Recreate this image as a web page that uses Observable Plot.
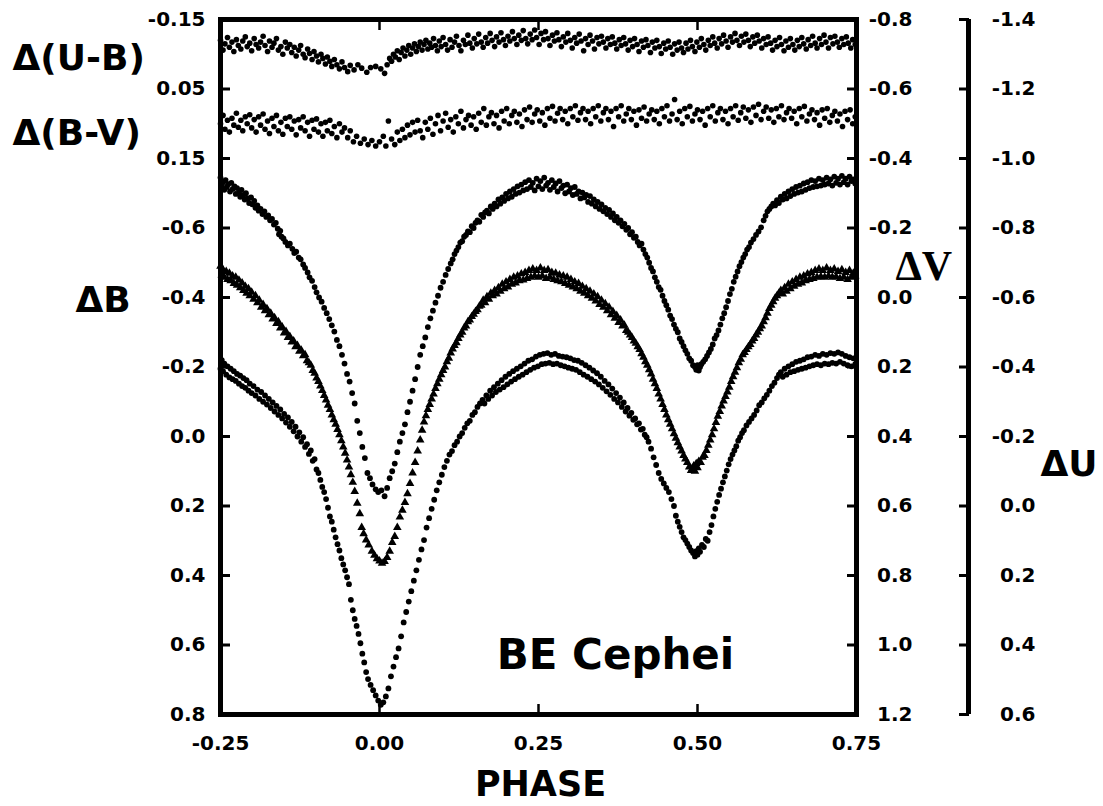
<!DOCTYPE html>
<html>
<head>
<meta charset="utf-8">
<script src="https://cdn.jsdelivr.net/npm/d3@7"></script>
<script src="https://cdn.jsdelivr.net/npm/@observablehq/plot@0.6"></script>
<style>
  body { margin: 0; background: #fff; }
  svg { display: block; }
</style>
</head>
<body>
<div id="chart"></div>
<script>
// ---------- tick labels ----------
const phaseTicks = [-0.25, 0.00, 0.25, 0.50, 0.75];
const innerPhaseTicks = [0.00, 0.25, 0.50];
const colorTicks = [-0.15, 0.05, 0.15];          // Δ(U-B), Δ(B-V) labels
const colorTickPos = [-1.2, -1.0, -0.8];         // where those labels sit on the ΔB axis
const bTicks = [-0.6, -0.4, -0.2, 0.0, 0.2, 0.4, 0.6, 0.8];
const vTicks = [-0.8, -0.6, -0.4, -0.2, 0.0, 0.2, 0.4, 0.6, 0.8, 1.0, 1.2];
const uTicks = [-1.4, -1.2, -1.0, -0.8, -0.6, -0.4, -0.2, 0.0, 0.2, 0.4, 0.6];
const vOffset = 0.4;   // ΔV = ΔB-axis value + 0.4
const uOffset = -0.2;  // ΔU = ΔB-axis value - 0.2

// ---------- series: [phase, value] ----------
const dV = [[-0.250,-0.345],[-0.248,-0.320],[-0.246,-0.332],[-0.244,-0.310],[-0.242,-0.338],[-0.240,-0.318],[-0.238,-0.326],[-0.235,-0.305],[-0.233,-0.330],[-0.231,-0.312],[-0.228,-0.320],[-0.226,-0.298],[-0.224,-0.315],[-0.221,-0.302],[-0.219,-0.290],[-0.217,-0.310],[-0.214,-0.295],[-0.212,-0.282],[-0.210,-0.300],[-0.207,-0.285],[-0.205,-0.272],[-0.202,-0.288],[-0.200,-0.268],[-0.197,-0.278],[-0.195,-0.258],[-0.192,-0.265],[-0.190,-0.250],[-0.187,-0.255],[-0.184,-0.240],[-0.181,-0.248],[-0.178,-0.232],[-0.175,-0.236],[-0.172,-0.222],[-0.169,-0.226],[-0.166,-0.210],[-0.163,-0.215],[-0.160,-0.198],[-0.158,-0.182],[-0.156,-0.192],[-0.154,-0.175],[-0.151,-0.170],[-0.148,-0.160],[-0.144,-0.150],[-0.141,-0.155],[-0.137,-0.140],[-0.134,-0.128],[-0.131,-0.132],[-0.127,-0.115],[-0.124,-0.110],[-0.120,-0.095],[-0.117,-0.085],[-0.113,-0.072],[-0.110,-0.058],[-0.106,-0.048],[-0.102,-0.030],[-0.099,-0.015],[-0.095,0.000],[-0.091,0.012],[-0.087,0.030],[-0.083,0.045],[-0.079,0.062],[-0.075,0.080],[-0.071,0.098],[-0.067,0.122],[-0.063,0.140],[-0.059,0.165],[-0.055,0.190],[-0.051,0.220],[-0.047,0.242],[-0.043,0.275],[-0.039,0.305],[-0.035,0.355],[-0.031,0.390],[-0.027,0.430],[-0.023,0.462],[-0.019,0.505],[-0.015,0.520],[-0.011,0.538],[-0.006,0.552],[-0.002,0.560],[0.003,0.555],[0.008,0.572],[0.012,0.548],[0.016,0.520],[0.020,0.500],[0.024,0.478],[0.028,0.445],[0.032,0.415],[0.036,0.390],[0.040,0.365],[0.044,0.330],[0.048,0.300],[0.052,0.268],[0.056,0.235],[0.060,0.200],[0.064,0.165],[0.068,0.140],[0.072,0.115],[0.076,0.085],[0.080,0.060],[0.084,0.038],[0.088,0.015],[0.092,-0.005],[0.096,-0.028],[0.100,-0.045],[0.104,-0.065],[0.108,-0.082],[0.112,-0.098],[0.115,-0.110],[0.118,-0.125],[0.121,-0.135],[0.124,-0.145],[0.127,-0.158],[0.130,-0.162],[0.133,-0.175],[0.136,-0.180],[0.139,-0.190],[0.142,-0.188],[0.145,-0.205],[0.148,-0.200],[0.151,-0.215],[0.154,-0.222],[0.157,-0.218],[0.160,-0.238],[0.163,-0.232],[0.166,-0.245],[0.169,-0.250],[0.172,-0.242],[0.175,-0.262],[0.178,-0.255],[0.181,-0.270],[0.184,-0.262],[0.187,-0.282],[0.190,-0.270],[0.193,-0.288],[0.196,-0.278],[0.199,-0.298],[0.202,-0.285],[0.205,-0.305],[0.208,-0.290],[0.211,-0.312],[0.214,-0.298],[0.217,-0.320],[0.220,-0.302],[0.223,-0.325],[0.226,-0.308],[0.229,-0.332],[0.232,-0.312],[0.235,-0.338],[0.238,-0.318],[0.241,-0.330],[0.244,-0.308],[0.247,-0.342],[0.250,-0.320],[0.253,-0.335],[0.256,-0.312],[0.259,-0.345],[0.262,-0.322],[0.265,-0.330],[0.268,-0.310],[0.271,-0.338],[0.274,-0.318],[0.277,-0.328],[0.280,-0.305],[0.283,-0.335],[0.286,-0.315],[0.289,-0.322],[0.292,-0.300],[0.295,-0.325],[0.298,-0.305],[0.301,-0.315],[0.304,-0.295],[0.307,-0.318],[0.310,-0.298],[0.313,-0.305],[0.316,-0.285],[0.319,-0.302],[0.322,-0.288],[0.325,-0.295],[0.328,-0.275],[0.331,-0.292],[0.334,-0.270],[0.337,-0.282],[0.340,-0.262],[0.343,-0.275],[0.346,-0.255],[0.349,-0.268],[0.352,-0.248],[0.355,-0.258],[0.358,-0.240],[0.361,-0.252],[0.364,-0.232],[0.367,-0.242],[0.370,-0.222],[0.373,-0.232],[0.376,-0.215],[0.379,-0.222],[0.382,-0.205],[0.385,-0.212],[0.388,-0.195],[0.391,-0.200],[0.394,-0.182],[0.397,-0.188],[0.400,-0.172],[0.403,-0.175],[0.406,-0.160],[0.409,-0.150],[0.412,-0.155],[0.415,-0.138],[0.418,-0.125],[0.421,-0.115],[0.424,-0.100],[0.427,-0.085],[0.430,-0.075],[0.433,-0.058],[0.436,-0.045],[0.439,-0.030],[0.442,-0.022],[0.445,-0.005],[0.448,0.010],[0.451,0.022],[0.454,0.035],[0.457,0.052],[0.460,0.062],[0.463,0.078],[0.466,0.090],[0.469,0.100],[0.472,0.118],[0.475,0.128],[0.478,0.140],[0.481,0.152],[0.484,0.162],[0.487,0.175],[0.490,0.182],[0.493,0.195],[0.496,0.200],[0.498,0.208],[0.500,0.195],[0.502,0.210],[0.504,0.200],[0.506,0.192],[0.509,0.185],[0.512,0.178],[0.515,0.168],[0.518,0.158],[0.521,0.148],[0.524,0.135],[0.527,0.118],[0.530,0.108],[0.533,0.095],[0.536,0.078],[0.539,0.060],[0.542,0.045],[0.545,0.028],[0.548,0.010],[0.551,-0.010],[0.554,-0.025],[0.557,-0.045],[0.560,-0.060],[0.563,-0.075],[0.566,-0.090],[0.569,-0.102],[0.572,-0.115],[0.575,-0.125],[0.578,-0.138],[0.581,-0.145],[0.584,-0.158],[0.588,-0.168],[0.592,-0.180],[0.596,-0.190],[0.600,-0.202],[0.604,-0.222],[0.607,-0.235],[0.610,-0.248],[0.613,-0.255],[0.616,-0.262],[0.619,-0.270],[0.622,-0.265],[0.625,-0.280],[0.628,-0.272],[0.631,-0.290],[0.634,-0.282],[0.637,-0.298],[0.640,-0.285],[0.643,-0.305],[0.646,-0.292],[0.649,-0.312],[0.652,-0.298],[0.655,-0.318],[0.658,-0.302],[0.661,-0.322],[0.664,-0.305],[0.667,-0.328],[0.670,-0.310],[0.673,-0.332],[0.676,-0.315],[0.679,-0.338],[0.682,-0.318],[0.685,-0.335],[0.688,-0.320],[0.691,-0.342],[0.694,-0.322],[0.697,-0.338],[0.700,-0.325],[0.703,-0.345],[0.706,-0.328],[0.709,-0.340],[0.712,-0.322],[0.715,-0.348],[0.718,-0.330],[0.721,-0.342],[0.724,-0.325],[0.727,-0.350],[0.730,-0.332],[0.733,-0.342],[0.736,-0.325],[0.739,-0.348],[0.742,-0.335],[0.745,-0.340],[0.748,-0.328]];

const dB = [[-0.250,-0.490],[-0.248,-0.465],[-0.246,-0.480],[-0.244,-0.458],[-0.241,-0.475],[-0.239,-0.452],[-0.236,-0.470],[-0.234,-0.448],[-0.231,-0.462],[-0.229,-0.440],[-0.226,-0.458],[-0.224,-0.435],[-0.221,-0.450],[-0.219,-0.428],[-0.216,-0.442],[-0.214,-0.420],[-0.211,-0.432],[-0.209,-0.412],[-0.206,-0.425],[-0.204,-0.405],[-0.201,-0.415],[-0.198,-0.395],[-0.195,-0.405],[-0.192,-0.385],[-0.189,-0.392],[-0.186,-0.372],[-0.183,-0.380],[-0.180,-0.362],[-0.177,-0.368],[-0.174,-0.350],[-0.171,-0.355],[-0.168,-0.338],[-0.165,-0.342],[-0.162,-0.325],[-0.159,-0.330],[-0.156,-0.312],[-0.153,-0.315],[-0.150,-0.298],[-0.147,-0.302],[-0.144,-0.285],[-0.141,-0.288],[-0.138,-0.272],[-0.135,-0.275],[-0.132,-0.258],[-0.129,-0.262],[-0.126,-0.245],[-0.123,-0.248],[-0.120,-0.232],[-0.117,-0.235],[-0.114,-0.218],[-0.111,-0.212],[-0.108,-0.205],[-0.105,-0.190],[-0.102,-0.182],[-0.099,-0.168],[-0.096,-0.158],[-0.093,-0.145],[-0.090,-0.132],[-0.087,-0.118],[-0.084,-0.105],[-0.081,-0.090],[-0.078,-0.078],[-0.075,-0.062],[-0.072,-0.048],[-0.069,-0.035],[-0.066,-0.020],[-0.063,-0.005],[-0.060,0.012],[-0.057,0.030],[-0.054,0.048],[-0.051,0.068],[-0.048,0.088],[-0.045,0.110],[-0.042,0.132],[-0.039,0.158],[-0.035,0.192],[-0.031,0.222],[-0.028,0.262],[-0.025,0.280],[-0.021,0.298],[-0.017,0.312],[-0.012,0.330],[-0.008,0.342],[-0.004,0.352],[0.000,0.358],[0.004,0.365],[0.008,0.360],[0.012,0.348],[0.016,0.330],[0.020,0.305],[0.024,0.288],[0.028,0.262],[0.032,0.232],[0.036,0.212],[0.040,0.190],[0.044,0.165],[0.048,0.135],[0.052,0.105],[0.056,0.075],[0.060,0.042],[0.064,0.010],[0.067,-0.018],[0.070,-0.042],[0.073,-0.060],[0.076,-0.078],[0.079,-0.092],[0.082,-0.108],[0.085,-0.122],[0.088,-0.138],[0.091,-0.152],[0.094,-0.165],[0.097,-0.178],[0.100,-0.190],[0.103,-0.200],[0.106,-0.215],[0.109,-0.225],[0.112,-0.240],[0.115,-0.252],[0.118,-0.262],[0.121,-0.270],[0.124,-0.282],[0.127,-0.292],[0.130,-0.300],[0.133,-0.312],[0.136,-0.318],[0.139,-0.330],[0.142,-0.335],[0.145,-0.345],[0.148,-0.352],[0.151,-0.360],[0.154,-0.365],[0.157,-0.375],[0.160,-0.378],[0.163,-0.392],[0.166,-0.385],[0.169,-0.402],[0.172,-0.395],[0.175,-0.412],[0.178,-0.405],[0.181,-0.420],[0.184,-0.410],[0.187,-0.428],[0.190,-0.418],[0.193,-0.438],[0.196,-0.425],[0.199,-0.445],[0.202,-0.430],[0.205,-0.452],[0.208,-0.438],[0.211,-0.458],[0.214,-0.442],[0.217,-0.462],[0.220,-0.448],[0.223,-0.468],[0.226,-0.450],[0.229,-0.472],[0.232,-0.455],[0.235,-0.478],[0.238,-0.458],[0.241,-0.482],[0.244,-0.462],[0.247,-0.478],[0.250,-0.458],[0.253,-0.485],[0.256,-0.462],[0.259,-0.478],[0.262,-0.455],[0.265,-0.480],[0.268,-0.458],[0.271,-0.472],[0.274,-0.452],[0.277,-0.470],[0.280,-0.448],[0.283,-0.465],[0.286,-0.445],[0.289,-0.462],[0.292,-0.440],[0.295,-0.458],[0.298,-0.435],[0.301,-0.452],[0.304,-0.430],[0.307,-0.445],[0.310,-0.425],[0.313,-0.440],[0.316,-0.418],[0.319,-0.432],[0.322,-0.412],[0.325,-0.425],[0.328,-0.405],[0.331,-0.418],[0.334,-0.398],[0.337,-0.410],[0.340,-0.390],[0.343,-0.402],[0.346,-0.380],[0.349,-0.392],[0.352,-0.372],[0.355,-0.382],[0.358,-0.362],[0.361,-0.372],[0.364,-0.350],[0.367,-0.360],[0.370,-0.340],[0.373,-0.348],[0.376,-0.328],[0.379,-0.335],[0.382,-0.318],[0.385,-0.320],[0.388,-0.305],[0.391,-0.300],[0.394,-0.292],[0.397,-0.285],[0.400,-0.275],[0.403,-0.268],[0.406,-0.258],[0.409,-0.250],[0.412,-0.238],[0.415,-0.228],[0.418,-0.215],[0.421,-0.205],[0.424,-0.192],[0.427,-0.180],[0.430,-0.165],[0.433,-0.152],[0.436,-0.138],[0.439,-0.122],[0.442,-0.108],[0.445,-0.092],[0.448,-0.078],[0.451,-0.062],[0.454,-0.048],[0.457,-0.035],[0.460,-0.022],[0.463,-0.008],[0.466,0.005],[0.469,0.018],[0.472,0.030],[0.475,0.042],[0.478,0.055],[0.481,0.065],[0.484,0.075],[0.487,0.088],[0.490,0.098],[0.492,0.092],[0.494,0.085],[0.496,0.100],[0.498,0.078],[0.500,0.090],[0.502,0.072],[0.505,0.075],[0.508,0.060],[0.511,0.055],[0.514,0.040],[0.517,0.025],[0.520,0.010],[0.523,-0.005],[0.526,-0.022],[0.529,-0.040],[0.532,-0.058],[0.535,-0.072],[0.538,-0.088],[0.541,-0.102],[0.544,-0.115],[0.547,-0.128],[0.550,-0.142],[0.553,-0.158],[0.556,-0.172],[0.559,-0.185],[0.562,-0.198],[0.565,-0.212],[0.568,-0.222],[0.571,-0.235],[0.574,-0.242],[0.577,-0.250],[0.580,-0.258],[0.583,-0.265],[0.586,-0.275],[0.589,-0.282],[0.592,-0.292],[0.595,-0.300],[0.598,-0.310],[0.601,-0.318],[0.604,-0.330],[0.607,-0.342],[0.610,-0.355],[0.613,-0.368],[0.616,-0.378],[0.619,-0.388],[0.622,-0.398],[0.625,-0.405],[0.628,-0.412],[0.631,-0.420],[0.634,-0.410],[0.637,-0.428],[0.640,-0.418],[0.643,-0.438],[0.646,-0.425],[0.649,-0.445],[0.652,-0.432],[0.655,-0.452],[0.658,-0.438],[0.661,-0.458],[0.664,-0.442],[0.667,-0.462],[0.670,-0.448],[0.673,-0.468],[0.676,-0.452],[0.679,-0.472],[0.682,-0.455],[0.685,-0.478],[0.688,-0.458],[0.691,-0.482],[0.694,-0.460],[0.697,-0.478],[0.700,-0.458],[0.703,-0.485],[0.706,-0.462],[0.709,-0.478],[0.712,-0.458],[0.715,-0.482],[0.718,-0.460],[0.721,-0.475],[0.724,-0.455],[0.727,-0.480],[0.730,-0.458],[0.733,-0.472],[0.736,-0.452],[0.739,-0.478],[0.742,-0.458],[0.745,-0.470],[0.748,-0.462]];

const dU = [[-0.250,-0.395],[-0.248,-0.420],[-0.246,-0.388],[-0.244,-0.410],[-0.241,-0.378],[-0.239,-0.402],[-0.236,-0.370],[-0.234,-0.395],[-0.231,-0.365],[-0.229,-0.388],[-0.226,-0.360],[-0.224,-0.380],[-0.221,-0.352],[-0.219,-0.375],[-0.216,-0.345],[-0.214,-0.368],[-0.211,-0.340],[-0.209,-0.362],[-0.206,-0.332],[-0.204,-0.352],[-0.201,-0.325],[-0.198,-0.345],[-0.195,-0.318],[-0.192,-0.335],[-0.189,-0.308],[-0.186,-0.328],[-0.183,-0.300],[-0.180,-0.318],[-0.177,-0.292],[-0.174,-0.308],[-0.171,-0.282],[-0.168,-0.298],[-0.165,-0.272],[-0.162,-0.288],[-0.159,-0.262],[-0.156,-0.278],[-0.153,-0.252],[-0.150,-0.265],[-0.147,-0.240],[-0.144,-0.255],[-0.141,-0.228],[-0.138,-0.242],[-0.135,-0.215],[-0.132,-0.228],[-0.129,-0.200],[-0.126,-0.212],[-0.123,-0.185],[-0.120,-0.198],[-0.117,-0.170],[-0.114,-0.178],[-0.111,-0.150],[-0.108,-0.160],[-0.105,-0.130],[-0.102,-0.135],[-0.099,-0.105],[-0.096,-0.095],[-0.093,-0.075],[-0.090,-0.055],[-0.087,-0.040],[-0.084,-0.020],[-0.081,0.005],[-0.078,0.030],[-0.075,0.045],[-0.072,0.068],[-0.069,0.090],[-0.066,0.110],[-0.063,0.128],[-0.060,0.150],[-0.057,0.168],[-0.054,0.185],[-0.051,0.205],[-0.048,0.225],[-0.045,0.270],[-0.042,0.300],[-0.039,0.325],[-0.036,0.345],[-0.033,0.368],[-0.030,0.395],[-0.027,0.425],[-0.024,0.450],[-0.021,0.478],[-0.018,0.498],[-0.014,0.515],[-0.010,0.530],[-0.006,0.545],[-0.002,0.560],[0.002,0.572],[0.006,0.565],[0.010,0.548],[0.014,0.525],[0.018,0.490],[0.022,0.462],[0.026,0.435],[0.030,0.410],[0.034,0.375],[0.038,0.335],[0.042,0.305],[0.046,0.275],[0.050,0.245],[0.054,0.215],[0.058,0.185],[0.062,0.155],[0.066,0.125],[0.070,0.098],[0.074,0.062],[0.078,0.035],[0.082,0.008],[0.086,-0.018],[0.090,-0.045],[0.094,-0.068],[0.098,-0.090],[0.102,-0.112],[0.106,-0.130],[0.110,-0.148],[0.114,-0.158],[0.118,-0.175],[0.122,-0.185],[0.126,-0.200],[0.130,-0.210],[0.134,-0.225],[0.138,-0.238],[0.142,-0.245],[0.146,-0.262],[0.150,-0.270],[0.154,-0.285],[0.158,-0.295],[0.162,-0.305],[0.165,-0.295],[0.168,-0.318],[0.171,-0.308],[0.174,-0.332],[0.177,-0.318],[0.180,-0.342],[0.183,-0.328],[0.186,-0.352],[0.189,-0.335],[0.192,-0.362],[0.195,-0.342],[0.198,-0.372],[0.201,-0.350],[0.204,-0.380],[0.207,-0.358],[0.210,-0.388],[0.213,-0.365],[0.216,-0.395],[0.219,-0.372],[0.222,-0.402],[0.225,-0.378],[0.228,-0.410],[0.231,-0.385],[0.234,-0.418],[0.237,-0.392],[0.240,-0.422],[0.243,-0.398],[0.246,-0.430],[0.249,-0.402],[0.252,-0.435],[0.255,-0.408],[0.258,-0.438],[0.261,-0.410],[0.264,-0.440],[0.267,-0.412],[0.270,-0.435],[0.273,-0.408],[0.276,-0.438],[0.279,-0.410],[0.282,-0.432],[0.285,-0.405],[0.288,-0.430],[0.291,-0.402],[0.294,-0.428],[0.297,-0.398],[0.300,-0.425],[0.303,-0.395],[0.306,-0.420],[0.309,-0.392],[0.312,-0.418],[0.315,-0.385],[0.318,-0.412],[0.321,-0.378],[0.324,-0.405],[0.327,-0.372],[0.330,-0.398],[0.333,-0.365],[0.336,-0.390],[0.339,-0.358],[0.342,-0.382],[0.345,-0.350],[0.348,-0.372],[0.351,-0.340],[0.354,-0.360],[0.357,-0.330],[0.360,-0.350],[0.363,-0.320],[0.366,-0.338],[0.369,-0.308],[0.372,-0.325],[0.375,-0.298],[0.378,-0.312],[0.381,-0.285],[0.384,-0.298],[0.387,-0.272],[0.390,-0.282],[0.393,-0.260],[0.396,-0.268],[0.399,-0.248],[0.402,-0.252],[0.405,-0.235],[0.408,-0.238],[0.411,-0.220],[0.414,-0.222],[0.417,-0.205],[0.420,-0.198],[0.423,-0.185],[0.427,-0.165],[0.431,-0.140],[0.435,-0.118],[0.439,-0.095],[0.443,-0.078],[0.447,-0.065],[0.451,-0.052],[0.455,-0.040],[0.459,-0.020],[0.463,0.000],[0.466,0.028],[0.469,0.045],[0.472,0.060],[0.475,0.075],[0.478,0.090],[0.481,0.098],[0.484,0.108],[0.487,0.118],[0.490,0.128],[0.493,0.135],[0.496,0.145],[0.498,0.130],[0.500,0.140],[0.502,0.122],[0.504,0.132],[0.507,0.112],[0.510,0.118],[0.513,0.095],[0.516,0.100],[0.519,0.075],[0.522,0.055],[0.525,0.030],[0.528,0.008],[0.531,-0.012],[0.534,-0.032],[0.537,-0.050],[0.540,-0.068],[0.543,-0.085],[0.546,-0.102],[0.549,-0.120],[0.552,-0.135],[0.555,-0.148],[0.558,-0.160],[0.561,-0.172],[0.564,-0.188],[0.567,-0.198],[0.570,-0.210],[0.573,-0.218],[0.577,-0.232],[0.581,-0.242],[0.585,-0.252],[0.589,-0.262],[0.593,-0.275],[0.597,-0.290],[0.601,-0.298],[0.605,-0.310],[0.609,-0.320],[0.613,-0.332],[0.617,-0.345],[0.621,-0.355],[0.625,-0.368],[0.628,-0.378],[0.631,-0.385],[0.634,-0.372],[0.637,-0.395],[0.640,-0.378],[0.643,-0.402],[0.646,-0.385],[0.649,-0.408],[0.652,-0.388],[0.655,-0.415],[0.658,-0.392],[0.661,-0.418],[0.664,-0.395],[0.667,-0.422],[0.670,-0.398],[0.673,-0.428],[0.676,-0.402],[0.679,-0.430],[0.682,-0.405],[0.685,-0.435],[0.688,-0.408],[0.691,-0.432],[0.694,-0.405],[0.697,-0.438],[0.700,-0.410],[0.703,-0.435],[0.706,-0.408],[0.709,-0.440],[0.712,-0.412],[0.715,-0.438],[0.718,-0.410],[0.721,-0.442],[0.724,-0.415],[0.727,-0.438],[0.730,-0.410],[0.733,-0.432],[0.736,-0.405],[0.739,-0.428],[0.742,-0.402],[0.745,-0.425],[0.748,-0.408]];

const dUB = [[-0.250,-0.090],[-0.246,-0.062],[-0.243,-0.080],[-0.239,-0.098],[-0.236,-0.070],[-0.232,-0.085],[-0.229,-0.058],[-0.225,-0.092],[-0.222,-0.075],[-0.218,-0.065],[-0.215,-0.088],[-0.211,-0.100],[-0.208,-0.072],[-0.204,-0.082],[-0.201,-0.060],[-0.197,-0.095],[-0.194,-0.078],[-0.190,-0.068],[-0.187,-0.085],[-0.183,-0.102],[-0.180,-0.075],[-0.176,-0.058],[-0.173,-0.088],[-0.169,-0.070],[-0.166,-0.082],[-0.162,-0.095],[-0.159,-0.062],[-0.155,-0.072],[-0.152,-0.050],[-0.148,-0.085],[-0.145,-0.068],[-0.141,-0.078],[-0.138,-0.055],[-0.134,-0.070],[-0.131,-0.045],[-0.127,-0.062],[-0.124,-0.075],[-0.120,-0.050],[-0.117,-0.040],[-0.113,-0.065],[-0.110,-0.052],[-0.106,-0.035],[-0.103,-0.058],[-0.099,-0.045],[-0.096,-0.028],[-0.092,-0.050],[-0.089,-0.038],[-0.085,-0.022],[-0.082,-0.042],[-0.078,-0.030],[-0.075,-0.015],[-0.071,-0.035],[-0.067,-0.020],[-0.063,-0.008],[-0.059,-0.028],[-0.055,-0.012],[-0.050,0.000],[-0.046,-0.018],[-0.040,-0.005],[-0.034,-0.020],[-0.028,-0.010],[-0.020,0.002],[-0.014,-0.012],[-0.006,-0.015],[0.002,-0.008],[0.008,0.005],[0.012,-0.020],[0.016,-0.038],[0.019,-0.030],[0.022,-0.050],[0.025,-0.042],[0.028,-0.060],[0.031,-0.035],[0.034,-0.055],[0.037,-0.068],[0.040,-0.045],[0.043,-0.062],[0.046,-0.075],[0.049,-0.050],[0.052,-0.068],[0.055,-0.080],[0.058,-0.058],[0.061,-0.072],[0.064,-0.085],[0.067,-0.062],[0.070,-0.078],[0.073,-0.090],[0.076,-0.065],[0.079,-0.082],[0.082,-0.070],[0.085,-0.095],[0.088,-0.075],[0.091,-0.060],[0.094,-0.088],[0.097,-0.072],[0.100,-0.098],[0.104,-0.078],[0.107,-0.062],[0.111,-0.092],[0.114,-0.070],[0.118,-0.085],[0.121,-0.102],[0.125,-0.075],[0.128,-0.060],[0.132,-0.090],[0.135,-0.078],[0.139,-0.105],[0.142,-0.082],[0.146,-0.068],[0.149,-0.095],[0.153,-0.080],[0.156,-0.108],[0.160,-0.085],[0.163,-0.070],[0.167,-0.098],[0.170,-0.082],[0.174,-0.110],[0.177,-0.090],[0.181,-0.072],[0.184,-0.100],[0.188,-0.085],[0.191,-0.112],[0.195,-0.092],[0.198,-0.075],[0.202,-0.102],[0.205,-0.088],[0.209,-0.115],[0.212,-0.095],[0.216,-0.078],[0.219,-0.105],[0.223,-0.090],[0.226,-0.118],[0.230,-0.095],[0.233,-0.080],[0.237,-0.108],[0.240,-0.092],[0.244,-0.120],[0.247,-0.098],[0.251,-0.078],[0.254,-0.110],[0.258,-0.092],[0.261,-0.115],[0.265,-0.095],[0.268,-0.075],[0.272,-0.105],[0.275,-0.088],[0.279,-0.112],[0.282,-0.092],[0.286,-0.072],[0.289,-0.100],[0.293,-0.085],[0.296,-0.110],[0.300,-0.090],[0.303,-0.068],[0.307,-0.098],[0.310,-0.082],[0.314,-0.108],[0.317,-0.088],[0.321,-0.060],[0.324,-0.095],[0.328,-0.078],[0.331,-0.105],[0.335,-0.088],[0.338,-0.065],[0.342,-0.098],[0.345,-0.080],[0.349,-0.102],[0.352,-0.085],[0.356,-0.068],[0.359,-0.095],[0.363,-0.078],[0.366,-0.100],[0.370,-0.082],[0.373,-0.065],[0.377,-0.092],[0.380,-0.075],[0.384,-0.098],[0.387,-0.080],[0.391,-0.062],[0.394,-0.090],[0.398,-0.072],[0.401,-0.095],[0.405,-0.078],[0.408,-0.058],[0.412,-0.088],[0.415,-0.070],[0.419,-0.092],[0.422,-0.075],[0.426,-0.055],[0.429,-0.085],[0.433,-0.068],[0.436,-0.090],[0.440,-0.072],[0.443,-0.052],[0.447,-0.082],[0.450,-0.065],[0.454,-0.088],[0.457,-0.070],[0.461,-0.050],[0.464,-0.080],[0.468,-0.062],[0.471,-0.085],[0.475,-0.068],[0.478,-0.055],[0.482,-0.082],[0.485,-0.065],[0.489,-0.090],[0.492,-0.072],[0.496,-0.058],[0.499,-0.085],[0.503,-0.070],[0.506,-0.095],[0.510,-0.078],[0.513,-0.062],[0.517,-0.090],[0.520,-0.075],[0.524,-0.100],[0.527,-0.082],[0.531,-0.068],[0.534,-0.095],[0.538,-0.080],[0.541,-0.105],[0.545,-0.088],[0.548,-0.070],[0.552,-0.100],[0.555,-0.085],[0.559,-0.110],[0.562,-0.090],[0.566,-0.075],[0.569,-0.102],[0.573,-0.085],[0.576,-0.108],[0.580,-0.090],[0.583,-0.072],[0.587,-0.100],[0.590,-0.082],[0.594,-0.105],[0.597,-0.088],[0.601,-0.068],[0.604,-0.095],[0.608,-0.078],[0.611,-0.100],[0.615,-0.082],[0.618,-0.062],[0.622,-0.090],[0.625,-0.072],[0.629,-0.098],[0.632,-0.078],[0.636,-0.060],[0.639,-0.088],[0.643,-0.070],[0.646,-0.095],[0.650,-0.078],[0.653,-0.062],[0.657,-0.090],[0.660,-0.072],[0.664,-0.098],[0.667,-0.080],[0.671,-0.065],[0.674,-0.092],[0.678,-0.075],[0.681,-0.102],[0.685,-0.082],[0.688,-0.068],[0.692,-0.095],[0.695,-0.078],[0.699,-0.105],[0.702,-0.085],[0.706,-0.068],[0.709,-0.098],[0.713,-0.080],[0.716,-0.102],[0.720,-0.085],[0.723,-0.070],[0.727,-0.095],[0.730,-0.078],[0.734,-0.100],[0.737,-0.082],[0.741,-0.068],[0.744,-0.092],[0.748,-0.078]];

const dBV = [[-0.250,0.100],[-0.246,0.088],[-0.243,0.108],[-0.239,0.095],[-0.236,0.112],[-0.232,0.092],[-0.229,0.102],[-0.225,0.085],[-0.222,0.105],[-0.218,0.095],[-0.215,0.110],[-0.211,0.090],[-0.208,0.100],[-0.204,0.087],[-0.201,0.106],[-0.197,0.094],[-0.194,0.112],[-0.190,0.090],[-0.187,0.102],[-0.183,0.086],[-0.180,0.108],[-0.176,0.096],[-0.173,0.114],[-0.169,0.092],[-0.166,0.104],[-0.162,0.088],[-0.159,0.110],[-0.155,0.098],[-0.152,0.115],[-0.148,0.092],[-0.145,0.104],[-0.141,0.090],[-0.138,0.108],[-0.134,0.096],[-0.131,0.116],[-0.127,0.094],[-0.124,0.106],[-0.120,0.090],[-0.117,0.110],[-0.113,0.098],[-0.110,0.118],[-0.106,0.095],[-0.103,0.108],[-0.099,0.093],[-0.096,0.112],[-0.092,0.100],[-0.089,0.118],[-0.085,0.098],[-0.082,0.110],[-0.078,0.095],[-0.075,0.114],[-0.071,0.104],[-0.067,0.120],[-0.063,0.100],[-0.059,0.112],[-0.055,0.106],[-0.050,0.120],[-0.046,0.110],[-0.041,0.126],[-0.036,0.118],[-0.030,0.128],[-0.024,0.122],[-0.018,0.130],[-0.012,0.124],[-0.006,0.132],[0.000,0.126],[0.006,0.118],[0.010,0.132],[0.014,0.096],[0.019,0.122],[0.024,0.130],[0.028,0.112],[0.032,0.124],[0.036,0.108],[0.040,0.120],[0.044,0.102],[0.048,0.116],[0.052,0.098],[0.056,0.112],[0.060,0.095],[0.064,0.110],[0.068,0.120],[0.072,0.098],[0.076,0.108],[0.080,0.092],[0.084,0.115],[0.088,0.100],[0.092,0.088],[0.096,0.110],[0.100,0.096],[0.104,0.085],[0.108,0.105],[0.112,0.094],[0.116,0.112],[0.120,0.090],[0.124,0.100],[0.128,0.082],[0.132,0.106],[0.136,0.094],[0.140,0.088],[0.144,0.102],[0.148,0.090],[0.152,0.108],[0.156,0.085],[0.160,0.098],[0.164,0.078],[0.168,0.102],[0.172,0.090],[0.176,0.084],[0.180,0.100],[0.184,0.088],[0.188,0.106],[0.192,0.082],[0.196,0.096],[0.200,0.078],[0.204,0.100],[0.208,0.088],[0.212,0.082],[0.216,0.098],[0.220,0.086],[0.224,0.104],[0.228,0.080],[0.232,0.094],[0.236,0.076],[0.240,0.098],[0.244,0.086],[0.248,0.080],[0.252,0.096],[0.256,0.084],[0.260,0.102],[0.264,0.078],[0.268,0.092],[0.272,0.075],[0.276,0.096],[0.280,0.085],[0.284,0.078],[0.288,0.094],[0.292,0.082],[0.296,0.100],[0.300,0.078],[0.304,0.090],[0.308,0.074],[0.312,0.095],[0.316,0.084],[0.320,0.078],[0.324,0.094],[0.328,0.082],[0.332,0.100],[0.336,0.078],[0.340,0.090],[0.344,0.074],[0.348,0.096],[0.352,0.084],[0.356,0.078],[0.360,0.094],[0.364,0.082],[0.368,0.104],[0.372,0.078],[0.376,0.090],[0.380,0.074],[0.384,0.096],[0.388,0.086],[0.392,0.078],[0.396,0.094],[0.400,0.082],[0.404,0.102],[0.408,0.080],[0.412,0.092],[0.416,0.076],[0.420,0.096],[0.424,0.086],[0.428,0.080],[0.432,0.094],[0.436,0.082],[0.440,0.100],[0.444,0.078],[0.448,0.090],[0.452,0.074],[0.456,0.096],[0.460,0.086],[0.464,0.065],[0.468,0.094],[0.472,0.082],[0.476,0.100],[0.480,0.078],[0.484,0.090],[0.488,0.075],[0.492,0.096],[0.496,0.086],[0.500,0.080],[0.504,0.094],[0.508,0.082],[0.512,0.102],[0.516,0.078],[0.520,0.090],[0.524,0.074],[0.528,0.096],[0.532,0.084],[0.536,0.078],[0.540,0.094],[0.544,0.082],[0.548,0.100],[0.552,0.078],[0.556,0.090],[0.560,0.074],[0.564,0.095],[0.568,0.084],[0.572,0.076],[0.576,0.092],[0.580,0.080],[0.584,0.098],[0.588,0.076],[0.592,0.088],[0.596,0.072],[0.600,0.094],[0.604,0.082],[0.608,0.076],[0.612,0.092],[0.616,0.080],[0.620,0.098],[0.624,0.078],[0.628,0.090],[0.632,0.074],[0.636,0.094],[0.640,0.084],[0.644,0.078],[0.648,0.092],[0.652,0.082],[0.656,0.100],[0.660,0.078],[0.664,0.090],[0.668,0.075],[0.672,0.096],[0.676,0.086],[0.680,0.080],[0.684,0.094],[0.688,0.084],[0.692,0.102],[0.696,0.080],[0.700,0.092],[0.704,0.078],[0.708,0.098],[0.712,0.088],[0.716,0.082],[0.720,0.096],[0.724,0.086],[0.728,0.104],[0.732,0.082],[0.736,0.094],[0.740,0.080],[0.744,0.100],[0.748,0.090]];

// ---------- build plotting tables ----------
const colorToAxis = d3.scaleLinear().domain(colorTicks).range(colorTickPos);
const rowsV  = dV.map(([p, m]) => ({phase: p, y: m - vOffset}));
const rowsB  = dB.map(([p, m]) => ({phase: p, y: m}));
const rowsU  = dU.map(([p, m]) => ({phase: p, y: m - uOffset}));
const rowsUB = dUB.map(([p, c]) => ({phase: p, y: colorToAxis(c)}));
const rowsBV = dBV.map(([p, c]) => ({phase: p, y: colorToAxis(c)}));

const key = v => Math.round(v * 1000);
const leftPos = colorTickPos.concat(bTicks);
const leftLabel = new Map([
  ...colorTicks.map((t, i) => [key(colorTickPos[i]), t.toFixed(2)]),
  ...bTicks.map(t => [key(t), t.toFixed(1)])
]);
const vPos = vTicks.map(t => t - vOffset);
const vLabel = new Map(vTicks.map(t => [key(t - vOffset), t.toFixed(1)]));
const uPos = uTicks.map(t => t - uOffset);
const uLabel = new Map(uTicks.map(t => [key(t - uOffset), t.toFixed(1)]));

const big = {fontSize: 36, fontWeight: "bold", textAnchor: "start", lineAnchor: "middle"};

const chart = Plot.plot({
  width: 1103,
  height: 806,
  marginLeft: 220,
  marginRight: 247,
  marginTop: 19,
  marginBottom: 92,
  x: {domain: [phaseTicks[0], phaseTicks[phaseTicks.length - 1]]},
  y: {domain: [colorTickPos[0], bTicks[bTicks.length - 1]], reverse: true},
  style: {fontFamily: "DejaVu Sans", fontWeight: "bold", fontSize: "20px", color: "black", background: "white"},
  marks: [
    Plot.dot(rowsUB, {x: "phase", y: "y", r: 2.8, fill: "black"}),
    Plot.dot(rowsBV, {x: "phase", y: "y", r: 2.8, fill: "black"}),
    Plot.dot(rowsV,  {x: "phase", y: "y", r: 2.9, fill: "black"}),
    Plot.dot(rowsB,  {x: "phase", y: "y", r: 3.2, symbol: "triangle", fill: "black"}),
    Plot.dot(rowsU,  {x: "phase", y: "y", r: 2.9, fill: "black"}),
    Plot.frame({stroke: "black", strokeWidth: 5}),
    // inward ticks
    Plot.axisY({ticks: leftPos, anchor: "left", tickSize: 10, dx: 10, fill: "none", strokeWidth: 3, label: null}),
    Plot.axisY({ticks: vPos, anchor: "right", tickSize: 10, dx: -10, fill: "none", strokeWidth: 3, label: null}),
    Plot.axisX({ticks: innerPhaseTicks, anchor: "bottom", tickSize: 10, dy: -10, fill: "none", strokeWidth: 2.5, label: null}),
    Plot.axisX({ticks: innerPhaseTicks, anchor: "top", tickSize: 10, dy: 10, fill: "none", strokeWidth: 2.5, label: null}),
    // labels
    Plot.axisY({ticks: leftPos, anchor: "left", tickSize: 0, tickPadding: 15, tickFormat: d => leftLabel.get(key(d)), label: null, fontSize: 20, fontWeight: "bold"}),
    Plot.axisY({ticks: vPos, anchor: "right", tickSize: 0, tickPadding: 0, dx: 56, textAnchor: "end", tickFormat: d => vLabel.get(key(d)), label: null, fontSize: 20, fontWeight: "bold"}),
    Plot.axisX({ticks: phaseTicks, anchor: "bottom", tickSize: 0, tickPadding: 21, tickFormat: d => d.toFixed(2), label: null, fontSize: 20, fontWeight: "bold"}),
    // ΔU axis off to the right
    Plot.ruleX([phaseTicks[phaseTicks.length - 1]], {dx: 112, stroke: "black", strokeWidth: 5}),
    Plot.axisY({ticks: uPos, anchor: "right", tickSize: 10, dx: 102, fill: "none", strokeWidth: 3, label: null}),
    Plot.axisY({ticks: uPos, anchor: "right", tickSize: 0, tickPadding: 0, dx: 179, textAnchor: "end", tickFormat: d => uLabel.get(key(d)), label: null, fontSize: 20, fontWeight: "bold"}),
    // titles
    Plot.text(["Δ(U-B)"], {frameAnchor: "top-left", dx: -208, dy: 39, ...big}),
    Plot.text(["Δ(B-V)"], {frameAnchor: "top-left", dx: -208, dy: 114, ...big}),
    Plot.text(["ΔB"], {frameAnchor: "top-left", dx: -145, dy: 281, ...big}),
    Plot.text(["ΔV"], {frameAnchor: "top-right", dx: 39, dy: 247, ...big, fontFamily: "Liberation Serif", fontSize: 42}),
    Plot.text(["ΔU"], {frameAnchor: "top-right", dx: 184, dy: 445, ...big}),
    Plot.text(["PHASE"], {frameAnchor: "bottom", dx: 2, dy: 70, fontSize: 35, fontWeight: "bold", lineAnchor: "middle"}),
    Plot.text(["BE Cephei"], {frameAnchor: "bottom", dx: 77, dy: -59, fontSize: 42, fontWeight: "bold", lineAnchor: "middle"})
  ]
});
document.getElementById("chart").appendChild(chart);
</script>
</body>
</html>
